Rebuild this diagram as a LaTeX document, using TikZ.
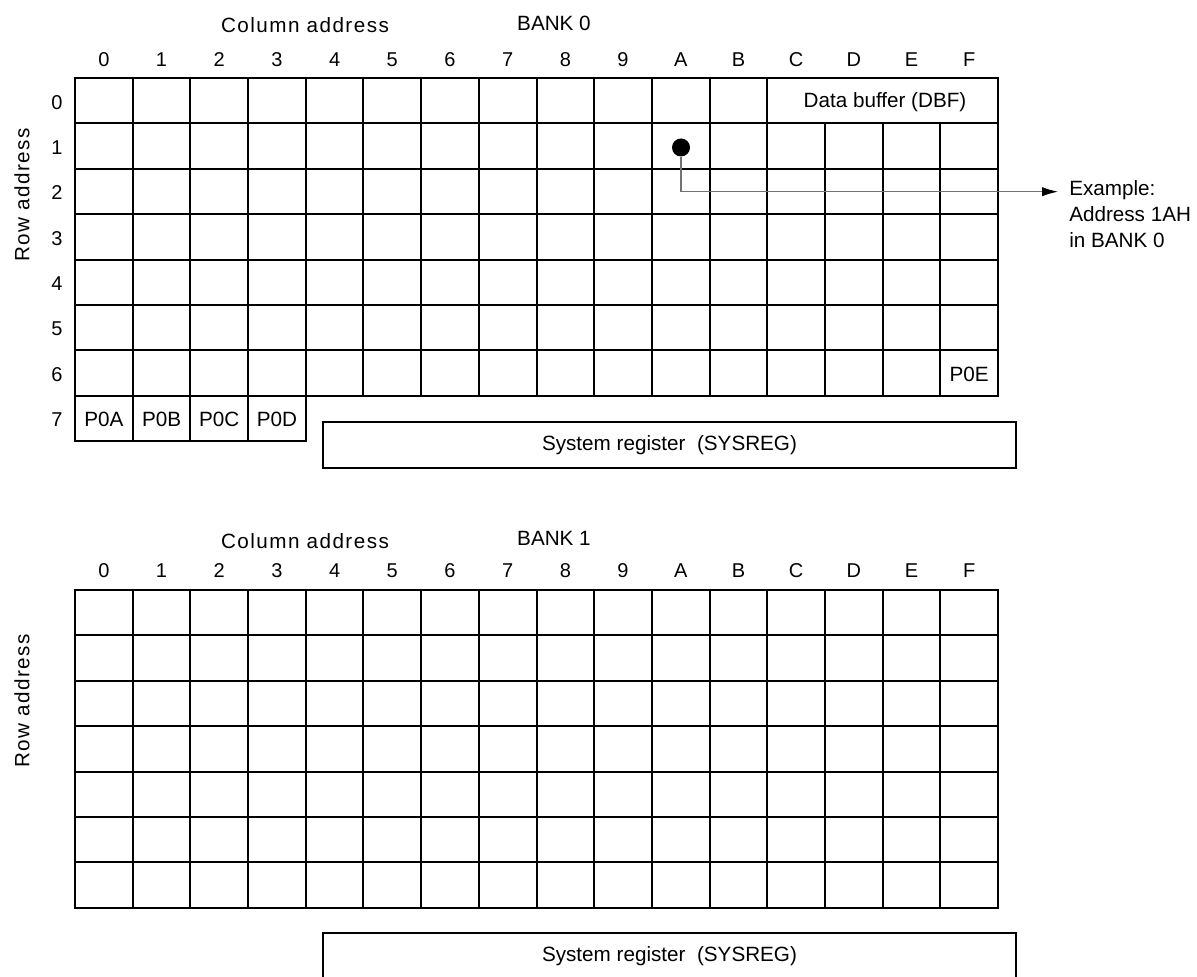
\documentclass[tikz,border=0pt]{standalone}
\usepackage{fontspec}
\setmainfont{Liberation Sans}
\newfontfamily\spacedfont[LetterSpace=7]{Liberation Sans}
\usetikzlibrary{arrows.meta}
\begin{document}
\begin{tikzpicture}[x=0.75pt,y=-0.75pt,
  gridline/.style={line width=1.5pt, line cap=rect},
  lbl/.style={font=\fontsize{15}{18}\selectfont, inner sep=0pt},
  txt/.style={font=\fontsize{15.5}{19.5}\selectfont, inner sep=0pt},
  spaced/.style={font=\spacedfont\fontsize{15.5}{19.5}\selectfont, inner sep=0pt},
  regbox/.style={draw, line width=1.5pt, minimum width=519.75pt, minimum height=34.5pt, font=\fontsize{15.5}{19.5}\selectfont},
  conn/.style={draw=black!55, line width=0.8pt, -{Latex[black,length=12pt,width=7pt]}}
]
\useasboundingbox (0,0) rectangle (1197,977);
\clip (0,0) rectangle (1197,977);
% ---------- BANK 0 ----------
\foreach \r in {0,...,7} \draw[gridline] (75,{78+45.4*\r}) -- (998,{78+45.4*\r});
\draw[gridline] (75,441.2) -- (305.8,441.2);
\foreach \i in {0,1,2,3,4} \draw[gridline] ({75+57.69*\i},78) -- ({75+57.69*\i},441.2);
\foreach \i in {5,6,7,8,9,10,11,12,16} \draw[gridline] ({75+57.69*\i},78) -- ({75+57.69*\i},395.8);
\foreach \i in {13,14,15} \draw[gridline] ({75+57.69*\i},123.4) -- ({75+57.69*\i},395.8);
\foreach \c [count=\i from 0] in {0,1,2,3,4,5,6,7,8,9,A,B,C,D,E,F}
  \node[lbl] (ca\i) at ({75+57.69*(\i+0.5)},60) {\c};
\foreach \r in {0,...,7}
  \node[lbl] (ra\r) at (57,{78+45.4*(\r+0.5)+1.5}) {\r};
\node[spaced] (colA) at (305,25) {Column address};
\node[txt] (bank0) at (554,23) {BANK 0};
\node[spaced, rotate=90] (rowA) at (22,195) {Row address};
\node[txt] (dbf) at (885,102) {Data buffer (DBF)};
\node[txt] (p0a) at ({75+57.69*0.5},419.5) {P0A};
\node[txt] (p0b) at ({75+57.69*1.5},419.5) {P0B};
\node[txt] (p0c) at ({75+57.69*2.5},419.5) {P0C};
\node[txt] (p0d) at ({75+57.69*3.5},419.5) {P0D};
\node[txt] (p0e) at ({75+57.69*15.5},374) {P0E};
\node[regbox] (sys0) at (669.5,445) {System register\ \ (SYSREG)};
\node[circle, fill=black, minimum size=13.5pt, inner sep=0pt] (dot) at (681,147.5) {};
\coordinate (tip) at (1058,191.7);
\draw[conn] (dot) |- (tip);
\node[txt, anchor=north west, align=left] (ex) at (1069,180) {Example:\\Address 1AH\\in BANK 0};
% ---------- BANK 1 ----------
\foreach \r in {0,...,7} \draw[gridline] (75,{590+45.4*\r}) -- (998,{590+45.4*\r});
\foreach \i in {0,...,16} \draw[gridline] ({75+57.69*\i},590) -- ({75+57.69*\i},907.8);
\foreach \c [count=\i from 0] in {0,1,2,3,4,5,6,7,8,9,A,B,C,D,E,F}
  \node[lbl] (cb\i) at ({75+57.69*(\i+0.5)},571) {\c};
\node[spaced] (colB) at (305,541) {Column address};
\node[txt] (bank1) at (554,538) {BANK 1};
\node[spaced, rotate=90] (rowB) at (22,701) {Row address};
\node[regbox] (sys1) at (669.5,956) {System register\ \ (SYSREG)};
\end{tikzpicture}
\end{document}
